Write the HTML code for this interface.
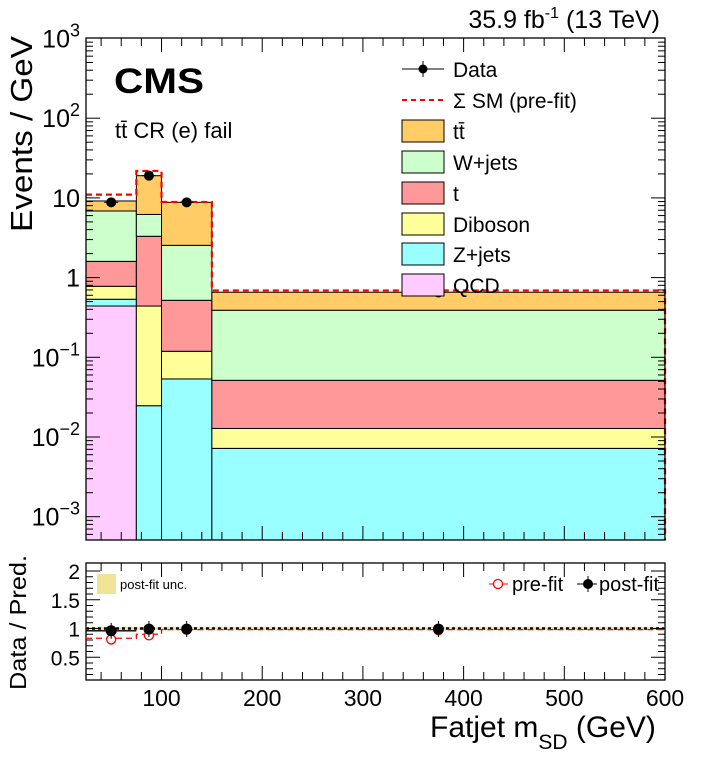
<!DOCTYPE html>
<html><head><meta charset="utf-8"><style>
body{margin:0;background:#fff;}
svg{display:block;font-family:"Liberation Sans",sans-serif;}
</style></head><body>
<svg id="c" width="716" height="772" viewBox="0 0 716 772"></svg>
<script>
const binEdges=[25,75,100,150,600];
const qcd=[0.44,0,0,0];
const zjets=[0.095,0.0247,0.0535,0.0072];
const diboson=[0.243,0.415,0.0655,0.0056];
const single_t=[0.82,2.86,0.40,0.0386];
const wjets=[5.25,2.9,2.02,0.338];
const ttbar=[2.3,12.8,6.26,0.266];
const prefitTotal=[11.0,21.8,8.9,0.69];
const dataX=[50,87.5,125,375];
const dataY=[8.8,19.0,8.8,0.65];
const ratioPost=[0.96,0.99,0.99,0.99];
const ratioPre=[0.81,0.88,0.98,0.97];
const prefitLine=[0.83,0.90,0.98,0.98];
const xTicks=[100,200,300,400,500,600];
const yDecades=[-3,-2,-1,0,1,2,3];
const yDecadeLabels=["10^-3","10^-2","10^-1","1","10","10^2","10^3"];
const rTicks=[0.5,1,1.5,2];
const rTickLabels=["0.5","1","1.5","2"];

const S=document.getElementById('c');const NS="http://www.w3.org/2000/svg";
function el(t,a,p){const e=document.createElementNS(NS,t);for(const k in a)e.setAttribute(k,a[k]);(p||S).appendChild(e);return e;}
const L=86,R=665,T=38,B=540,RT=563,RB=680;
const X=v=>L+(v-25)*(R-L)/575;
const Y=v=>38.5+(3-Math.log10(v))*79.7;
const YR=r=>628.5-(r-1)*57.5;
const cl=v=>Math.min(B,Math.max(T,v));

const layers=[[qcd,'#FFCCFF','qcd'],[zjets,'#99FFFF','z-jets'],[diboson,'#FFFF99','diboson'],[single_t,'#FF9999','single-top'],[wjets,'#CCFFCC','w-jets'],[ttbar,'#FFCC66','ttbar']];
const cum=[0,0,0,0];
const gS=el('g',{});

for(const [arr,col,nm] of layers){
  for(let i=0;i<4;i++){
    const lo=cum[i],hi=cum[i]+arr[i];cum[i]=hi;
    if(arr[i]<=0)continue;
    const y1=lo>0?cl(Y(lo)):B,y0=cl(Y(hi));
    const r=el('rect',{x:X(binEdges[i]),y:y0,width:X(binEdges[i+1])-X(binEdges[i]),height:y1-y0,fill:col,stroke:'#000','stroke-width':1},gS);
    
    
  }
}
let d='';
for(let i=0;i<4;i++){d+=(i?'L':'M')+X(binEdges[i])+' '+Y(prefitTotal[i])+'L'+X(binEdges[i+1])+' '+Y(prefitTotal[i]);}
const pf=el('path',{d:d+'L'+X(600)+' '+B,fill:'none',stroke:'#f00','stroke-width':2.2,'stroke-dasharray':'6,4'});

for(let i=0;i<4;i++){
  const c=el('circle',{cx:X(dataX[i]),cy:Y(dataY[i]),r:5,fill:'#000'});
  
  el('line',{x1:X(dataX[i])-7,x2:X(dataX[i])+7,y1:Y(dataY[i]),y2:Y(dataY[i]),stroke:'#000'});
}
for(const [t,b,nm] of [[T,B,'main-frame'],[RT,RB,'ratio-frame']]){
  const f=el('rect',{x:L,y:t,width:R-L,height:b-t,fill:'none',stroke:'#000','stroke-width':1.3});
  
}
for(let v=40;v<=600;v+=20){
  const maj=v%100===0;const ln=maj?14:8;
  for(const [t,b] of [[T,B],[RT,RB]]){
    el('line',{x1:X(v),x2:X(v),y1:b,y2:b-ln,stroke:'#000'});
    el('line',{x1:X(v),x2:X(v),y1:t,y2:t+ln,stroke:'#000'});
  }
}
xTicks.forEach(v=>{const t=el('text',{x:X(v),y:706,'font-size':23,'text-anchor':'middle'});t.textContent=v;
});
for(let dcd=-4;dcd<=2;dcd++)for(let m=1;m<10;m++){
  const v=m*Math.pow(10,dcd);const y=Y(v);if(y<T||y>B)continue;
  const ln=m===1?14:7;
  el('line',{x1:L,x2:L+ln,y1:y,y2:y,stroke:'#000'});el('line',{x1:R,x2:R-ln,y1:y,y2:y,stroke:'#000'});
}
yDecades.forEach((dc,i)=>{
  const y=Y(Math.pow(10,dc))+9;const lab=yDecadeLabels[i];
  const t=el('text',{x:80,y:y,'font-size':25,'text-anchor':'end'});
  
  if(lab.includes('^')){const [b,e]=lab.split('^');t.textContent=b;const ts=el('tspan',{dy:-11,'font-size':18},t);ts.textContent=e.replace('-','\u2212');}
  else t.textContent=lab;
});
const band=el('rect',{x:L,y:YR(1.03),width:R-L,height:YR(0.97)-YR(1.03),fill:'#EEE496'});

el('line',{x1:L,x2:R,y1:YR(1),y2:YR(1),stroke:'#000','stroke-width':2.5,'stroke-dasharray':'3,3'});
let pd='';for(let i=0;i<4;i++){pd+=(i?'L':'M')+X(binEdges[i])+' '+YR(prefitLine[i])+'L'+X(binEdges[i+1])+' '+YR(prefitLine[i]);}
const pl=el('path',{d:pd,fill:'none',stroke:'#f00','stroke-width':1.3,'stroke-dasharray':'6,4'});

el('line',{x1:L,x2:X(75),y1:YR(ratioPost[0]),y2:YR(ratioPost[0]),stroke:'#000','stroke-width':1.3});
for(let i=0;i<4;i++){
  const c=el('circle',{cx:X(dataX[i]),cy:YR(ratioPre[i]),r:4.5,fill:'#fff',stroke:'#f00','stroke-width':1.3});
  
  const p=el('circle',{cx:X(dataX[i]),cy:YR(ratioPost[i]),r:5.5,fill:'#000'});
  
  el('line',{x1:X(dataX[i]),x2:X(dataX[i]),y1:YR(ratioPost[i])-8,y2:YR(ratioPost[i])+8,stroke:'#000'});
}
for(let r=0.2;r<=2.05;r+=0.1){const maj=Math.abs(r*2-Math.round(r*2))<0.01;const ln=maj?14:7;
  el('line',{x1:L,x2:L+ln,y1:YR(r),y2:YR(r),stroke:'#000'});el('line',{x1:R,x2:R-ln,y1:YR(r),y2:YR(r),stroke:'#000'});}
rTicks.forEach((r,i)=>{const t=el('text',{x:80,y:YR(r)+8,'font-size':21,'text-anchor':'end'});t.textContent=rTickLabels[i];
});
</script>
<svg width="716" height="772" style="position:absolute;left:0;top:0;font-family:'Liberation Sans',sans-serif">
<text x="660" y="28" font-size="25" text-anchor="end">35.9 fb<tspan dy="-10" font-size="16">-1</tspan><tspan dy="10"> (13 TeV)</tspan></text>
<text x="114" y="93" font-size="35" font-weight="bold" textLength="90" lengthAdjust="spacingAndGlyphs">CMS</text>
<text x="115" y="138" font-size="22">tt̄ CR (e) fail</text>
<text transform="translate(32,232) rotate(-90)" font-size="31" textLength="196" lengthAdjust="spacingAndGlyphs">Events / GeV</text>
<text transform="translate(26,690) rotate(-90)" font-size="23" textLength="135" lengthAdjust="spacingAndGlyphs">Data / Pred.</text>
<text x="430" y="737" font-size="30">Fatjet m<tspan dy="12" font-size="21">SD</tspan><tspan dy="-12"> (GeV)</tspan></text>
<g>
<line x1="402" x2="444" y1="69" y2="69" stroke="#000"/><line x1="423" x2="423" y1="61" y2="77" stroke="#000"/><circle cx="423" cy="69" r="4.5"/>
<text x="453" y="77" font-size="21">Data</text>
<line x1="402" x2="444" y1="100" y2="100" stroke="#f00" stroke-width="2" stroke-dasharray="5,4"/>
<text x="453" y="108" font-size="21">Σ SM (pre-fit)</text>
<rect x="402" y="120" width="42" height="22" fill="#FFCC66" stroke="#000"/><text x="453" y="139" font-size="21">tt̄</text>
<rect x="402" y="151" width="42" height="22" fill="#CCFFCC" stroke="#000"/><text x="453" y="170" font-size="21">W+jets</text>
<rect x="402" y="182" width="42" height="22" fill="#FF9999" stroke="#000"/><text x="453" y="201" font-size="21">t</text>
<rect x="402" y="213" width="42" height="22" fill="#FFFF99" stroke="#000"/><text x="453" y="232" font-size="21">Diboson</text>
<rect x="402" y="243" width="42" height="22" fill="#99FFFF" stroke="#000"/><text x="453" y="262" font-size="21">Z+jets</text>
<rect x="402" y="274" width="42" height="22" fill="#FFCCFF" stroke="#000"/><text x="453" y="293" font-size="21">QCD</text>
</g>
<g>
<rect x="97" y="574" width="19" height="20" fill="#EEE496"/><text x="120" y="589" font-size="13">post-fit unc.</text>
<line x1="489" x2="508" y1="584" y2="584" stroke="#f00"/><circle cx="498" cy="584" r="4.5" fill="#fff" stroke="#f00" stroke-width="1.3"/>
<text x="512" y="591" font-size="20">pre-fit</text>
<line x1="577" x2="597" y1="584" y2="584" stroke="#000"/><line x1="588" x2="588" y1="576" y2="592" stroke="#000"/><circle cx="588" cy="584" r="5"/>
<text x="599" y="591" font-size="20">post-fit</text>
</g>
</svg>
</body></html>
